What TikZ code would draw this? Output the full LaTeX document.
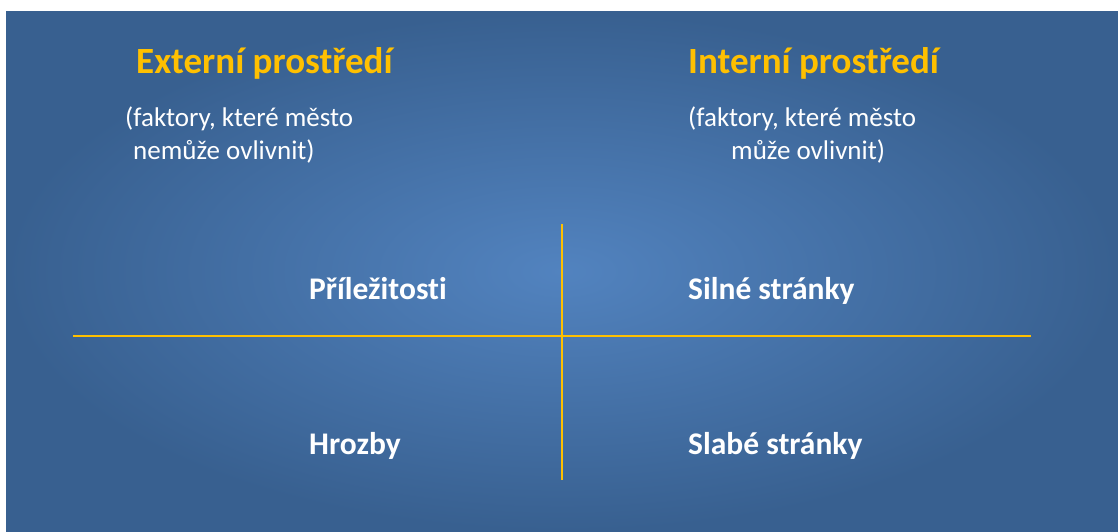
\documentclass[tikz,border=0pt]{standalone}
\usepackage{fontspec}
\setmainfont{Carlito}[Ligatures={NoCommon}]
\begin{document}
\begin{tikzpicture}[x=1pt,y=-1pt,
  title/.style={font=\fontsize{37}{44}\selectfont\bfseries, text=orangeY, inner sep=0pt, anchor=base west},
  sub/.style={font=\fontsize{27}{32}\selectfont, text=white, inner sep=0pt, anchor=base west},
  cell/.style={font=\fontsize{31.5}{38}\selectfont\bfseries, text=white, inner sep=0pt, anchor=base west},
  divider/.style={draw=orangeY, line width=1.4pt}]
\definecolor{orangeY}{HTML}{FFC000}
\definecolor{bgin}{HTML}{5283BF}
\definecolor{bgout}{HTML}{386090}
\useasboundingbox (0,0) rectangle (1118,532);
\fill[white] (0,0) rectangle (1118,532);
\shade[inner color=bgin, outer color=bgout] (6,12) rectangle (1118,531);
\node[title] (ext) at (136,74) {Externí prostředí};
\node[title] (int) at (688,74) {Interní prostředí};
\node[sub] (e1) at (125,127) {(faktory, které město};
\node[sub] (e2) at (133,159) {nemůže ovlivnit)};
\node[sub] (i1) at (688,127) {(faktory, které město};
\node[sub] (i2) at (731,159) {může ovlivnit)};
\node[cell] (o) at (309,299) {Příležitosti};
\node[cell] (s) at (688,299) {Silné stránky};
\node[cell] (t) at (309,454) {Hrozby};
\node[cell] (w) at (688,454) {Slabé stránky};
\coordinate (vt) at (562,224);
\coordinate (vb) at (562,480);
\coordinate (hl) at (73,336);
\coordinate (hr) at (1031,336);
\draw[divider] (vt) -- (vb);
\draw[divider] (hl) -- (hr);
\end{tikzpicture}
\end{document}
